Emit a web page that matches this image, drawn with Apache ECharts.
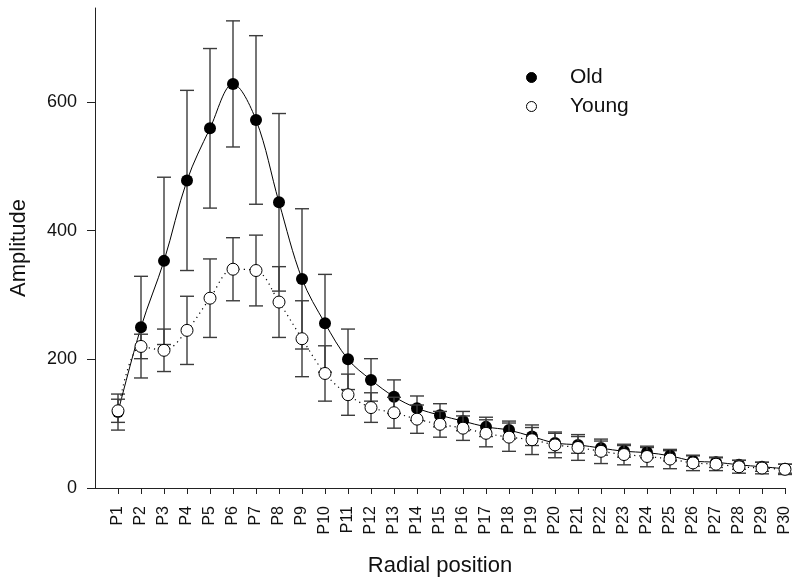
<!DOCTYPE html>
<html>
<head>
<meta charset="utf-8">
<script src="https://cdn.jsdelivr.net/npm/echarts@6/dist/echarts.min.js"></script>
<style>html,body{margin:0;padding:0;background:#fff;}#c{width:800px;height:587px;}</style>
</head>
<body>
<div id="c"></div>
<script>
const categories = ['P1','P2','P3','P4','P5','P6','P7','P8','P9','P10','P11','P12','P13','P14','P15','P16','P17','P18','P19','P20','P21','P22','P23','P24','P25','P26','P27','P28','P29','P30'];
const oldValues = [118, 250, 353, 478, 559, 628, 572, 444, 325, 256, 200, 168, 142, 124, 113, 104, 95, 90, 80, 70, 67, 62, 57, 55, 50, 42, 40, 36, 33, 30];
const oldErrors = [28, 79, 130, 140, 124, 98, 131, 138, 109, 76, 47, 33, 26, 19, 18, 15, 15, 14, 14, 15, 13, 11, 9, 8, 8, 8, 8, 7, 7, 7];
const youngValues = [120, 220, 214, 245, 295, 340, 338, 289, 232, 178, 145, 125, 117, 107, 99, 93, 85, 79, 75, 67, 63, 57, 52, 49, 45, 39, 37, 33, 31, 29];
const youngErrors = [18, 19, 33, 53, 61, 49, 55, 55, 59, 43, 32, 23, 24, 22, 20, 19, 21, 22, 23, 20, 20, 19, 16, 16, 15, 12, 10, 10, 9, 8];
const yTicks = [0, 200, 400, 600];

const FONT = "'Liberation Sans', Arial, sans-serif";
const positions = categories.map((c, i) => i + 1);
const toPoints = vals => vals.map((v, i) => [positions[i], v]);
const toErr = (vals, errs) => vals.map((v, i) => [positions[i], v - errs[i], v + errs[i]]);

function renderErr(params, api) {
  const x = api.value(0);
  const lo = api.coord([x, api.value(1)]);
  const hi = api.coord([x, api.value(2)]);
  const hw = 7;
  const style = { stroke: '#3c3c3c', lineWidth: 1.4, fill: null };
  return {
    type: 'group',
    children: [
      { type: 'line', shape: { x1: lo[0], y1: lo[1], x2: hi[0], y2: hi[1] }, style },
      { type: 'line', shape: { x1: hi[0] - hw, y1: hi[1], x2: hi[0] + hw, y2: hi[1] }, style },
      { type: 'line', shape: { x1: lo[0] - hw, y1: lo[1], x2: lo[0] + hw, y2: lo[1] }, style }
    ]
  };
}

const chart = echarts.init(document.getElementById('c'), null, { renderer: 'canvas' });
chart.setOption({
  animation: false,
  backgroundColor: '#fff',
  grid: { left: 95, right: 15, top: 8, bottom: 99, containLabel: false, outerBoundsMode: 'none' },
  legend: {
    orient: 'vertical',
    left: 521,
    top: 62,
    itemWidth: 67,
    itemHeight: 10,
    itemGap: 8,
    textStyle: { fontFamily: FONT, fontSize: 21, color: '#111' },
    data: [
      { name: 'Old', icon: 'circle', itemStyle: { color: '#000', borderColor: '#000', borderWidth: 1 } },
      { name: 'Young', icon: 'circle', itemStyle: { color: '#fff', borderColor: '#000', borderWidth: 1 } }
    ]
  },
  xAxis: {
    type: 'value',
    min: 0,
    max: 30,
    name: 'Radial position',
    nameLocation: 'middle',
    nameGap: 67,
    nameTextStyle: { fontFamily: FONT, fontSize: 22, color: '#111' },
    axisLine: { show: true, onZero: false, lineStyle: { color: '#222', width: 1 } },
    axisTick: { show: true, length: 6, customValues: positions, lineStyle: { color: '#222' } },
    axisLabel: {
      customValues: positions,
      rotate: 90,
      margin: 18,
      fontFamily: FONT,
      fontSize: 16,
      color: '#111',
      formatter: v => categories[v - 1] || ''
    },
    splitLine: { show: false }
  },
  yAxis: {
    type: 'value',
    min: 0,
    max: 746,
    name: 'Amplitude',
    nameLocation: 'middle',
    nameGap: 65,
    nameTextStyle: { fontFamily: FONT, fontSize: 22, color: '#111' },
    axisLine: { show: true, lineStyle: { color: '#222', width: 1 } },
    axisTick: { show: true, length: 8, customValues: yTicks, lineStyle: { color: '#222' } },
    axisLabel: { customValues: yTicks, margin: 18, fontFamily: FONT, fontSize: 18, color: '#111' },
    splitLine: { show: false }
  },
  series: [
    {
      name: 'Old error', type: 'custom', renderItem: renderErr,
      data: toErr(oldValues, oldErrors), encode: { x: 0, y: [1, 2] }, z: 2
    },
    {
      name: 'Old', type: 'line', data: toPoints(oldValues), smooth: 0.35,
      symbol: 'circle', symbolSize: 12,
      lineStyle: { color: '#000', width: 1 },
      itemStyle: { color: '#000', borderColor: '#000', borderWidth: 0 }, z: 3
    },
    {
      name: 'Young error', type: 'custom', renderItem: renderErr,
      data: toErr(youngValues, youngErrors), encode: { x: 0, y: [1, 2] }, z: 4
    },
    {
      name: 'Young', type: 'line', data: toPoints(youngValues), smooth: 0.35,
      symbol: 'circle', symbolSize: 12,
      lineStyle: { color: '#000', width: 1.2, type: [1.2, 4] },
      itemStyle: { color: '#fff', borderColor: '#000', borderWidth: 1 }, z: 5
    }
  ]
});
</script>
</body>
</html>
